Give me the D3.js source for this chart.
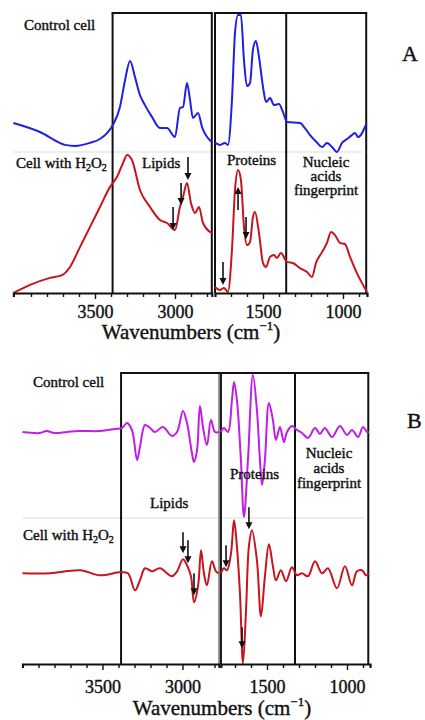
<!DOCTYPE html>
<html>
<head>
<meta charset="utf-8">
<script src="https://cdn.jsdelivr.net/npm/d3@7"></script>
<style>
body{margin:0;background:#fff;}
svg{display:block;}
.lbl{font-family:"Liberation Serif","Times New Roman",serif;fill:#111;stroke:#111;stroke-width:0.4px;}
</style>
</head>
<body>
<svg id="chart" width="425" height="720"></svg>
<script>
// ---- data ----
// A : absorbance spectra, arbitrary units (stacked)
var ctrlA_wn  = [4010,3844,3688,3625,3531,3469,3425,3388,3344,3312,3281,3250,3219,3188,3144,3094,3050,3000,2969,2950,2925,2906,2888,2856,2831,2770,
                 1800,1769,1738,1719,1694,1675,1656,1638,1619,1600,1581,1563,1544,1525,1500,1481,1456,1431,1400,1375,1350,1269,1238,1206,1160,1131,1100,1063,1038,1006,975,944,925,906,881,863,852];
var ctrlA_abs = [60.7,57.5,52.9,52.5,53.6,55,57.1,60,66.4,76.1,82.9,77.1,70.7,67.1,62.9,58.9,58.9,55.7,66.1,66.4,75,68.9,62.5,64.3,59.3,53.9,
                 53.6,52.9,53.6,52.9,68.9,92.9,99.3,99.3,83.2,73.9,75,86.8,90,84.3,73.6,68.2,69.6,67.1,67.5,64.6,61.1,60.7,58.9,56.4,53.6,52.1,53.6,51.8,50.4,53.6,55,56.4,57.1,55.7,57.1,59.3,60.4];
var h2o2A_wn  = [4010,3906,3781,3706,3656,3594,3531,3469,3406,3363,3325,3300,3269,3219,3156,3094,3050,3000,2969,2950,2925,2900,2875,2850,2825,2770,
                 1800,1769,1744,1719,1694,1675,1656,1638,1619,1600,1581,1563,1550,1525,1500,1481,1456,1431,1413,1388,1350,1313,1269,1225,1194,1169,1131,1100,1075,1050,1019,988,956,913,875,850];
var h2o2A_abs = [0,2.9,5.4,6.4,9.3,16.4,23.6,30.7,37.9,41.4,46.4,49.3,47.5,36.8,30.7,26.1,25,22.5,30.7,34.3,39.3,32.1,28.6,30.7,25,21.4,
                 2.1,1.1,1.8,0.4,15.4,36.8,43.9,40.4,23.6,17.1,18.2,27.1,28.9,21.4,10.7,9.3,12.9,13.6,12.5,14.3,11.1,10.7,8.9,7.5,5.7,10.7,14.6,17.9,21.8,20.7,17.9,17.5,12.9,7.1,2.9,0.4];
// B : second derivative spectra, arbitrary units (around each baseline)
var ctrlB_wn  = [4000,3891,3850,3800,3722,3650,3516,3422,3378,3347,3316,3284,3266,3234,3203,3172,3122,3066,3034,2997,2972,2941,2928,2909,2891,2872,2847,2822,2797,2772,
                 1788,1769,1744,1719,1706,1688,1663,1644,1619,1588,1563,1544,1531,1513,1488,1463,1444,1419,1394,1375,1344,1313,1281,1244,1200,1169,1138,1094,1044,1000,969,931,900,875,863];
var ctrlB_d2  = [0,-1,1,-1,0,1,1,3,4,9,2,-28,-15,7,4,0,5,-4,0,21,9,-21,-30,-18,26,5,-13,12,0,0,
                 0,4,0,32,50,32,-28,-85,-28,57,22,-28,-53,-28,29,12,-8,5,-10,0,6,2,-1,-6,4,-2,4,-5,6,-3,2,-5,5,0,0];
var h2o2B_wn  = [4000,3828,3641,3516,3391,3341,3297,3266,3234,3191,3141,3066,3034,2997,2972,2947,2928,2903,2884,2866,2847,2816,2791,2772,
                 1788,1769,1750,1725,1706,1688,1669,1650,1631,1613,1594,1563,1538,1513,1488,1463,1444,1413,1381,1344,1313,1281,1244,1200,1156,1119,1063,1013,969,938,906,881,863];
var h2o2B_d2  = [0,0,3,-2,1,0,-17,-7,5,2,5,-3,2,14,8,-3,-29,-13,23,0,-12,12,2,0,
                 0,5,3,20,53,27,-20,-90,-37,27,43,13,-43,-3,29,7,-7,3,-8,6,-2,0,-3,12,0,5,-15,7,-12,2,3,-2,0];
// arrows : wavenumber, value at tail, value at head
var arrA_wn = [2919,2962,3012,1656,1606,1750];
var arrA_from = [48.6,39.3,30.7,29.6,27.1,11.1];
var arrA_to   = [40.4,31.4,22.5,37.9,19.3,2.9];
var arrB_wn = [2997,2966,2928,1756,1613,1656];
var arrB_from = [41,33,0,28,66,-54];
var arrB_to   = [20,10,-22,6,44,-75];
// tick labels
var major_ticks = [3500,3000,1500,1000];
var hi_ticks = d3.range(3900,2770,-100);
var lo_ticks = d3.range(1700,850,-100);

var svg = d3.select("#chart");
var k = 0.16; // px per cm-1, both segments

function seg_scale(ext, ref_wn, ref_px){
  var ref = d3.scaleLinear().domain([ref_wn, ref_wn-500]).range([ref_px, ref_px+500*k]);
  return d3.scaleLinear().domain(ext).range(ext.map(ref));
}
function pts(wn, vals, lo, hi){
  var out = [];
  wn.forEach(function(w,i){ if(w>=lo && w<=hi) out.push([w, vals[i]]); });
  return out;
}
function draw_text(p, x, y, text, size){
  return p.append("text").attr("class","lbl").attr("x",x).attr("y",y)
    .attr("font-size",size||15).text(text);
}
function draw_h2o2(p, x, y){
  var t = draw_text(p, x, y, "Cell with H");
  t.append("tspan").attr("font-size",10).attr("dy",3).text("2");
  t.append("tspan").attr("dy",-3).text("O");
  t.append("tspan").attr("font-size",10).attr("dy",3).text("2");
  return t;
}
function draw_title(p, x, y){
  var t = draw_text(p, x, y, "Wavenumbers (cm", 21).attr("text-anchor","middle");
  t.append("tspan").attr("font-size",13).attr("dy",-9).text("\u22121");
  t.append("tspan").attr("dy",9).text(")");
}
function draw_axis(p, xs, ticks, y){
  var ax = d3.axisBottom(xs).tickValues(ticks).tickSizeOuter(0).tickSize(4)
    .tickFormat(function(d){ return major_ticks.indexOf(d)>=0 ? d : ""; });
  var g = p.append("g").attr("transform","translate(0,"+y+")").call(ax);
  g.select(".domain").attr("stroke","#111").attr("stroke-width",2.2);
  g.selectAll(".tick line").attr("stroke","#111").attr("stroke-width",1.4)
    .attr("y2",function(d){ return major_ticks.indexOf(d)>=0 ? 6 : 4; });
  g.selectAll(".tick text").attr("class","lbl").attr("font-size",18).attr("fill","#111")
    .attr("y", y>400 ? 16 : 12);
  return g;
}
function draw_arrow(p, x, y1, y2){
  var dir = y2>y1 ? 1 : -1;
  p.append("line").attr("x1",x).attr("x2",x).attr("y1",y1).attr("y2",y2-dir*6)
    .attr("stroke","#111").attr("stroke-width",1.6);
  p.append("path").attr("fill","#111")
    .attr("d","M"+(x-3.5)+","+(y2-dir*7)+"L"+(x+3.5)+","+(y2-dir*7)+"L"+x+","+y2+"Z");
}

function draw_panel(cfg){
  var g = svg.append("g");
  var xh = seg_scale([cfg.hi[0], cfg.hi[1]], 3500, cfg.x3500);
  var xl = seg_scale([cfg.lo[0], cfg.lo[1]], 1500, cfg.x1500);

  // separator between the two spectra
  g.append("line").attr("x1",xh.range()[0]).attr("x2",xl(cfg.edges[2])-4)
    .attr("y1",cfg.sep_y).attr("y2",cfg.sep_y).attr("stroke","#ddd").attr("stroke-width",1);

  // region boxes
  var top = cfg.top, bot = cfg.axis_y;
  var vx = [xh(cfg.edges[0]), xh.range()[1], xl.range()[0], xl(cfg.edges[1]), xl(cfg.edges[2])];
  var vcol = ["#111", cfg.break_col, "#111", "#111", "#111"];
  vx.forEach(function(x,i){
    g.append("line").attr("x1",x).attr("x2",x).attr("y1",top).attr("y2",bot)
      .attr("stroke",vcol[i]).attr("stroke-width",2);
  });
  g.append("line").attr("x1",vx[0]-1).attr("x2",vx[1]+1).attr("y1",top).attr("y2",top)
    .attr("stroke","#111").attr("stroke-width",2);
  g.append("line").attr("x1",vx[2]-1).attr("x2",vx[4]+1).attr("y1",top).attr("y2",top)
    .attr("stroke","#111").attr("stroke-width",2);

  // spectra
  cfg.series.forEach(function(s){
    [[xh, cfg.hi[1], cfg.hi[0]], [xl, cfg.lo[1], cfg.lo[0]]].forEach(function(sg){
      var line = d3.line().curve(cfg.curve)
        .x(function(d){ return sg[0](d[0]); })
        .y(function(d){ return s.y(d[1]); });
      g.append("path").datum(pts(s.wn, s.val, sg[1], sg[2]))
        .attr("d",line).attr("fill","none").attr("stroke",s.color)
        .attr("stroke-width",2).attr("stroke-linejoin","round");
    });
  });

  // arrows
  cfg.arrows.wn.forEach(function(w,i){
    var xs = w>2000 ? xh : xl;
    draw_arrow(g, xs(w), cfg.arrows.y(cfg.arrows.from[i]), cfg.arrows.y(cfg.arrows.to[i]));
  });

  draw_axis(g, xh, hi_ticks, cfg.axis_y);
  draw_axis(g, xl, lo_ticks, cfg.axis_y);
  return g;
}

// ---- panel A ----
var yA = d3.scaleLinear().domain([0,100]).range([293,13]);
var gA = draw_panel({
  hi:[4010,2770], lo:[1800,850], x3500:95, x1500:263,
  edges:[3390,1355,855], top:13, axis_y:293, sep_y:152, break_col:"#111",
  curve:d3.curveMonotoneX,
  series:[
    {wn:ctrlA_wn, val:ctrlA_abs, y:yA, color:"#1f1fe6"},
    {wn:h2o2A_wn, val:h2o2A_abs, y:yA, color:"#c8141e"}
  ],
  arrows:{wn:arrA_wn, from:arrA_from, to:arrA_to, y:yA}
});
draw_text(gA, 24, 30, "Control cell");
draw_text(gA, 402, 61, "A", 22);
draw_h2o2(gA, 16, 168);
draw_text(gA, 142, 168, "Lipids");
draw_text(gA, 227, 165, "Proteins");
draw_text(gA, 326, 167, "Nucleic").attr("text-anchor","middle");
draw_text(gA, 326, 181, "acids").attr("text-anchor","middle");
draw_text(gA, 326, 195, "fingerprint").attr("text-anchor","middle");
draw_title(gA, 191, 339);

// ---- panel B ----
function yB(base){ return d3.scaleLinear().domain([0,100]).range([base, base-100]); }
var yB_ctrl = yB(432), yB_h2o2 = yB(573.3);
var gB = draw_panel({
  hi:[4000,2772], lo:[1788,856], x3500:102.5, x1500:267,
  edges:[3384,1325,867], top:373, axis_y:664, sep_y:518, break_col:"#999",
  curve:d3.curveCatmullRom.alpha(0.5),
  series:[
    {wn:ctrlB_wn, val:ctrlB_d2, y:yB_ctrl, color:"#c01ee6"},
    {wn:h2o2B_wn, val:h2o2B_d2, y:yB_h2o2, color:"#c8141e"}
  ],
  arrows:{wn:arrB_wn, from:arrB_from, to:arrB_to, y:yB_h2o2}
});
draw_text(gB, 33, 387, "Control cell");
draw_text(gB, 407, 428, "B", 22);
draw_text(gB, 230, 479, "Proteins");
draw_text(gB, 329, 458, "Nucleic").attr("text-anchor","middle");
draw_text(gB, 329, 473, "acids").attr("text-anchor","middle");
draw_text(gB, 329, 488, "fingerprint").attr("text-anchor","middle");
draw_text(gB, 150, 508, "Lipids");
draw_h2o2(gB, 23, 540);
draw_title(gB, 222, 715);
</script>
</body>
</html>
